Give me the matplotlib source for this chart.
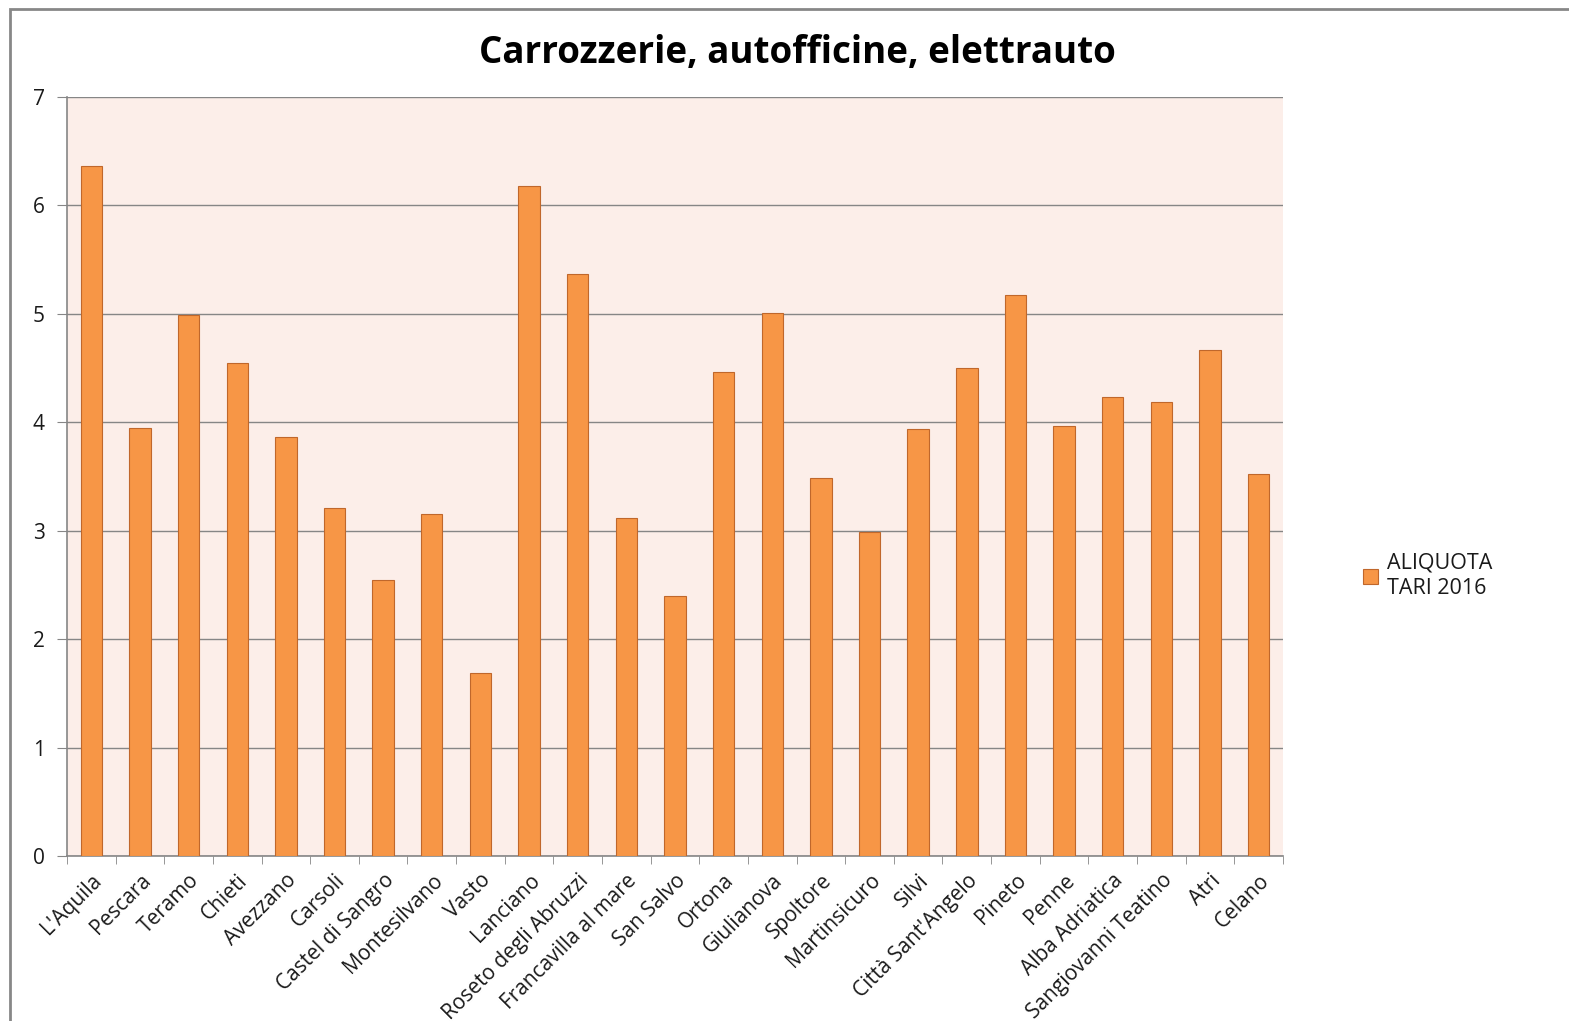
import matplotlib.pyplot as plt
from matplotlib.patches import Rectangle

# data
comuni = ["L'Aquila", 'Pescara', 'Teramo', 'Chieti', 'Avezzano', 'Carsoli',
          'Castel di Sangro', 'Montesilvano', 'Vasto', 'Lanciano',
          'Roseto degli Abruzzi', 'Francavilla al mare', 'San Salvo', 'Ortona',
          'Giulianova', 'Spoltore', 'Martinsicuro', 'Silvi', "Città Sant'Angelo",
          'Pineto', 'Penne', 'Alba Adriatica', 'Sangiovanni Teatino', 'Atri', 'Celano']
aliquota = [6.36, 3.95, 4.99, 4.55, 3.86, 3.21, 2.55, 3.15, 1.69, 6.18,
            5.37, 3.12, 2.40, 4.46, 5.01, 3.49, 2.99, 3.94, 4.50, 5.17,
            3.97, 4.23, 4.19, 4.67, 3.52]
yticks = [0, 1, 2, 3, 4, 5, 6, 7]

plt.rcParams['font.family'] = ['Open Sans', 'DejaVu Sans']

fig = plt.figure(figsize=(15.69, 10.21), dpi=100)
ax = fig.add_axes([0.0427, 0.1616, 0.775, 0.7434])

# outer chart frame
fig.patches.append(Rectangle((10 / 1569, -0.01), 1.02, 1 - 9 / 1021 + 0.01,
                             transform=fig.transFigure, fill=False,
                             edgecolor='#878787', linewidth=2))

x = range(len(comuni))
ax.bar(x, aliquota, width=0.44, color='#F79646', edgecolor='#C0672B',
       linewidth=0.8, label='ALIQUOTA\nTARI 2016', zorder=3)

ax.set_facecolor('#FCEEE9')
ax.set_xlim(-0.5, len(comuni) - 0.5)
ax.set_ylim(0, 7)
ax.set_yticks(yticks)
ax.yaxis.grid(True, color='#868686', linewidth=1, zorder=0)
ax.tick_params(axis='y', length=7, color='#868686', labelsize=15, pad=9,
               labelcolor='#1a1a1a')

# category ticks sit between bars
ax.set_xticks([i - 0.5 for i in range(len(comuni) + 1)], minor=True)
ax.tick_params(axis='x', which='minor', length=6, color='#868686')
ax.set_xticks(list(x))
ax.set_xticklabels(comuni, rotation=45, ha='right', rotation_mode='anchor',
                   fontsize=15, color='#1a1a1a')
ax.tick_params(axis='x', which='major', length=0, pad=10)

for side in ['top', 'right']:
    ax.spines[side].set_visible(False)
for side in ['left', 'bottom']:
    ax.spines[side].set_color('#868686')
    ax.spines[side].set_linewidth(1.2)

fig.text(0.508, 0.948, 'Carrozzerie, autofficine, elettrauto', ha='center',
         va='center', fontsize=26.5, fontweight='bold')

leg = ax.legend(loc='upper left', bbox_to_anchor=(1.05, 0.425), frameon=False,
                fontsize=15.5, handlelength=0.7, handleheight=0.7, handletextpad=0.4)
for t in leg.get_texts():
    t.set_linespacing(1.25)
    t.set_color('#1a1a1a')

fig.savefig('out.png', dpi=100)
